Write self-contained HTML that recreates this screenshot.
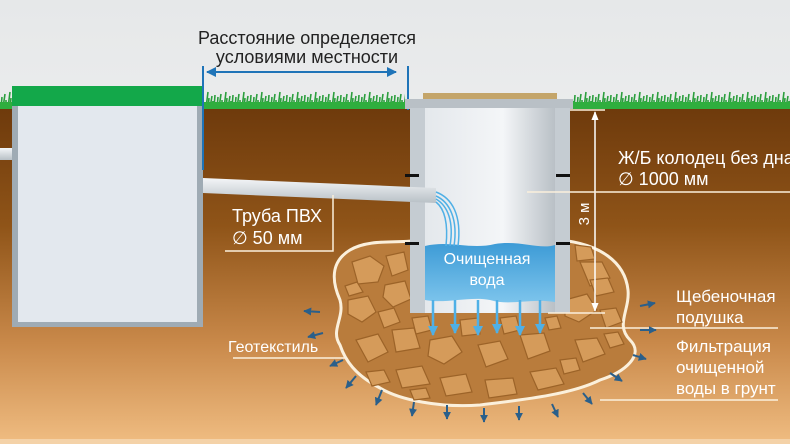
<!DOCTYPE html>
<html><head><meta charset="utf-8"><style>
html,body{margin:0;padding:0;width:790px;height:444px;overflow:hidden;background:#fff}
svg{display:block}
text{font-family:"Liberation Sans",sans-serif}
</style></head><body>
<svg width="790" height="444" viewBox="0 0 790 444" xmlns="http://www.w3.org/2000/svg">
<defs>
<linearGradient id="sky" x1="0" y1="0" x2="0" y2="1"><stop offset="0" stop-color="#e6e8e9"/><stop offset="1" stop-color="#f8f8f8"/></linearGradient>
<linearGradient id="soil" x1="0" y1="0" x2="0" y2="1"><stop offset="0" stop-color="#6e3a0c"/><stop offset="0.35" stop-color="#8f5418"/><stop offset="0.7" stop-color="#c9894a"/><stop offset="1" stop-color="#f0bd82"/></linearGradient>
<linearGradient id="well" x1="0" y1="0" x2="1" y2="0"><stop offset="0" stop-color="#e4e8ec"/><stop offset="0.6" stop-color="#f4f6f8"/><stop offset="1" stop-color="#b9c0c6"/></linearGradient>
<linearGradient id="water" x1="0" y1="0" x2="0" y2="1"><stop offset="0" stop-color="#3d9bd6"/><stop offset="1" stop-color="#7cc4ec"/></linearGradient>
<linearGradient id="pipe" x1="0" y1="0" x2="0" y2="1"><stop offset="0" stop-color="#f4f6f8"/><stop offset="1" stop-color="#b8c0c6"/></linearGradient>
<marker id="ab" viewBox="0 0 10 10" refX="9" refY="5" markerWidth="5" markerHeight="5" orient="auto"><path d="M0,0L10,5L0,10z" fill="#1f74b8"/></marker>
<marker id="aw" viewBox="0 0 10 10" refX="9" refY="5" markerWidth="6" markerHeight="6" orient="auto"><path d="M0,1L10,5L0,9z" fill="#fff"/></marker>
<marker id="al" viewBox="0 0 10 10" refX="9" refY="5" markerWidth="4" markerHeight="4" orient="auto"><path d="M0,0L10,5L0,10z" fill="#4fb0e6"/></marker>
<marker id="ad" viewBox="0 0 10 10" refX="9" refY="5" markerWidth="4" markerHeight="4" orient="auto"><path d="M0,0L10,5L0,10z" fill="#2a5f8a"/></marker>
<pattern id="grass" width="18" height="20" patternUnits="userSpaceOnUse" x="0" y="88">
<path d="M1,20 L2,9 M3,20 L5,6 M6,20 L6,12 M8,20 L10,4 M10,20 L11,10 M12,20 L14,8 M14,20 L15,13 M16,20 L17,7" stroke="#2a9e3c" stroke-width="1.6" fill="none"/>
</pattern>
</defs>
<rect width="790" height="444" fill="url(#sky)"/>
<rect y="108" width="790" height="336" fill="url(#soil)"/>
<rect y="439" width="790" height="5" fill="#f4d2a8"/>
<!-- grass -->
<rect x="0" y="88" width="12" height="20" fill="url(#grass)"/>
<rect x="205" y="88" width="200" height="20" fill="url(#grass)"/>
<rect x="573" y="88" width="217" height="20" fill="url(#grass)"/>
<rect x="0" y="102" width="790" height="7" fill="#2fae3e"/>
<!-- left pipe -->
<rect x="0" y="148" width="14" height="12" fill="url(#pipe)"/>
<!-- tank -->
<rect x="12" y="86" width="191" height="20" fill="#13a84a"/>
<rect x="12" y="106" width="191" height="221" fill="#9fabb4"/>
<rect x="18" y="106" width="179" height="216" fill="#e3e8ee"/>
<!-- dimension top -->
<line x1="203" y1="66" x2="203" y2="170" stroke="#1f74b8" stroke-width="2"/>
<line x1="408" y1="66" x2="408" y2="110" stroke="#1f74b8" stroke-width="2"/>
<line x1="215" y1="72" x2="396" y2="72" stroke="#1f74b8" stroke-width="2" marker-end="url(#ab)"/>
<line x1="396" y1="72" x2="207" y2="72" stroke="#1f74b8" stroke-width="2" marker-end="url(#ab)"/>
<text x="307" y="44" text-anchor="middle" font-size="18" fill="#222">Расстояние определяется</text>
<text x="307" y="63" text-anchor="middle" font-size="18" fill="#222">условиями местности</text>
<!-- gravel blob -->
<path d="M350,250 C370,238 400,244 420,240 L560,240 C600,244 625,262 628,290 C630,310 615,325 630,340 C645,355 625,372 600,380 C570,395 520,400 480,405 C440,408 400,400 380,388 C355,375 345,360 340,345 C330,330 345,318 340,300 C332,282 330,262 350,250 Z" fill="#b97c3c" stroke="#fbf0dc" stroke-width="3"/>
<g fill="#d59b5a" stroke="#9c6328" stroke-width="1.2">
<path d="M352,262 l18,-6 14,10 -6,16 -20,2z"/><path d="M386,256 l18,-4 4,18 -16,6z"/><path d="M348,300 l20,-4 8,16 -14,10 -14,-8z"/><path d="M345,286 l12,-4 6,10 -14,4z"/><path d="M356,340 l22,-6 10,18 -20,10z"/><path d="M385,285 l20,-4 6,18 -18,8 -10,-10z"/><path d="M378,312 l16,-4 6,14 -16,6z"/><path d="M392,330 l22,-2 6,20 -24,4z"/><path d="M396,370 l26,-4 8,18 -28,4z"/><path d="M430,340 l22,-4 10,16 -18,12 -16,-8z"/><path d="M412,318 l16,-2 4,14 -16,4z"/><path d="M440,378 l26,-4 6,18 -26,4z"/><path d="M478,345 l22,-4 8,18 -22,8z"/><path d="M460,320 l18,-2 2,16 -18,2z"/><path d="M485,380 l28,-2 4,16 -28,4z"/><path d="M520,335 l24,-2 6,18 -22,8z"/><path d="M500,318 l16,-2 4,14 -16,4z"/><path d="M530,372 l26,-4 8,16 -26,6z"/><path d="M565,300 l22,-6 10,16 -18,12 -14,-6z"/><path d="M575,340 l22,-2 8,16 -22,8z"/><path d="M580,262 l22,0 8,16 -20,8z"/><path d="M600,310 l16,-2 6,14 -16,6z"/><path d="M366,372 l18,-2 6,12 -18,4z"/><path d="M560,360 l16,-2 4,12 -16,4z"/><path d="M590,280 l18,-2 6,14 -18,4z"/><path d="M604,334 l14,-2 6,12 -14,4z"/><path d="M575,245 l16,2 4,12 -18,2z"/><path d="M410,390 l16,-2 4,10 -16,2z"/><path d="M545,318 l12,-2 4,12 -12,2z"/>
</g>
<!-- well -->
<rect x="423" y="93" width="134" height="8" fill="#c4a56a"/>
<rect x="405" y="99" width="168" height="10" fill="#b9c0c6"/>
<rect x="410" y="108" width="15" height="205" fill="#c5ccd2"/>
<rect x="555" y="108" width="15" height="205" fill="#c5ccd2"/>
<rect x="425" y="108" width="130" height="205" fill="url(#well)"/>
<path d="M425,246 C450,240 470,250 495,244 C520,240 540,250 555,245 L555,302 C530,298 510,306 490,300 C470,296 445,304 425,300 Z" fill="url(#water)"/>
<rect x="405" y="174" width="14" height="3" fill="#111"/><rect x="556" y="174" width="14" height="3" fill="#111"/>
<rect x="405" y="242" width="14" height="3" fill="#111"/><rect x="556" y="242" width="14" height="3" fill="#111"/>
<!-- pipe -->
<path d="M203,178 L436,188 L436,203 L203,193 Z" fill="url(#pipe)"/>
<g stroke="#4fb0e6" stroke-width="1.5" fill="none">
<path d="M436,192 C452,198 462,215 458,246"/><path d="M436,196 C450,202 458,220 454,246"/><path d="M436,199 C448,206 454,222 450,246"/><path d="M436,202 C446,210 448,226 446,246"/>
</g>
<text x="487" y="264" text-anchor="middle" font-size="16" fill="#fff">Очищенная</text>
<text x="487" y="285" text-anchor="middle" font-size="16" fill="#fff">вода</text>
<g stroke="#4fb0e6" stroke-width="2.5" marker-end="url(#al)">
<line x1="433" y1="300" x2="433" y2="335"/><line x1="455" y1="300" x2="455" y2="333"/><line x1="478" y1="300" x2="478" y2="335"/><line x1="497" y1="300" x2="497" y2="333"/><line x1="520" y1="300" x2="520" y2="335"/><line x1="540" y1="300" x2="540" y2="333"/>
</g>
<!-- 3m dim -->
<line x1="570" y1="110" x2="605" y2="110" stroke="#fbf0dc" stroke-width="1.5"/>
<line x1="548" y1="313" x2="605" y2="313" stroke="#fbf0dc" stroke-width="1.5"/>
<line x1="595" y1="160" x2="595" y2="112" stroke="#fff" stroke-width="1.5" marker-end="url(#aw)"/>
<line x1="595" y1="160" x2="595" y2="311" stroke="#fff" stroke-width="1.5" marker-end="url(#aw)"/>
<text transform="translate(589,214) rotate(-90)" text-anchor="middle" font-size="15" fill="#fff">3 м</text>
<line x1="527" y1="192" x2="790" y2="192" stroke="#fbf0dc" stroke-width="1.5"/>
<text x="618" y="164" font-size="18" fill="#fff">Ж/Б колодец без дна</text>
<text x="618" y="185" font-size="18" fill="#fff">∅ 1000 мм</text>
<text x="232" y="222" font-size="18" fill="#fff">Труба ПВХ</text>
<text x="232" y="244" font-size="18" fill="#fff">∅ 50 мм</text>
<polyline points="225,251 333,251 333,195" fill="none" stroke="#fbf0dc" stroke-width="1.5"/>
<text x="228" y="352" font-size="16" fill="#fff">Геотекстиль</text>
<line x1="233" y1="358" x2="345" y2="358" stroke="#fbf0dc" stroke-width="1.5"/>
<text x="676" y="302" font-size="17" fill="#fff">Щебеночная</text>
<text x="676" y="323" font-size="17" fill="#fff">подушка</text>
<line x1="590" y1="328" x2="778" y2="328" stroke="#fbf0dc" stroke-width="1.5"/>
<text x="676" y="352" font-size="17" fill="#fff">Фильтрация</text>
<text x="676" y="373" font-size="17" fill="#fff">очищенной</text>
<text x="676" y="394" font-size="17" fill="#fff">воды в грунт</text>
<line x1="600" y1="400" x2="778" y2="400" stroke="#fbf0dc" stroke-width="1.5"/>
<!-- outward arrows -->
<g stroke="#2a5f8a" stroke-width="2" marker-end="url(#ad)">
<line x1="320" y1="312" x2="304" y2="311"/><line x1="323" y1="333" x2="308" y2="337"/><line x1="343" y1="360" x2="330" y2="366"/><line x1="356" y1="376" x2="346" y2="388"/><line x1="382" y1="390" x2="376" y2="405"/><line x1="414" y1="402" x2="412" y2="416"/><line x1="447" y1="405" x2="447" y2="419"/><line x1="484" y1="408" x2="484" y2="422"/><line x1="519" y1="406" x2="519" y2="420"/><line x1="552" y1="404" x2="558" y2="417"/><line x1="583" y1="393" x2="592" y2="404"/><line x1="610" y1="373" x2="622" y2="381"/><line x1="633" y1="355" x2="646" y2="359"/><line x1="640" y1="330" x2="656" y2="330"/><line x1="640" y1="306" x2="655" y2="303"/>
</g>
</svg>
</body></html>
